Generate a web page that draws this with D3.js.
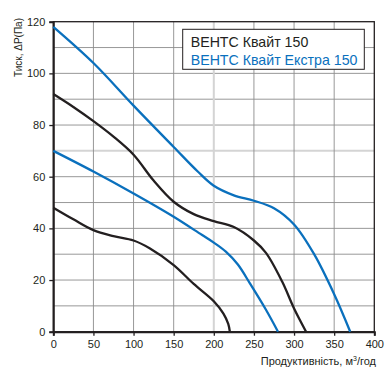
<!DOCTYPE html>
<html>
<head>
<meta charset="utf-8">
<script src="https://cdn.jsdelivr.net/npm/d3@7"></script>
<style>
  html, body { margin: 0; padding: 0; background: #fff; overflow: hidden; }
  svg { display: block; font-family: "Liberation Sans", Arial, sans-serif; }
</style>
</head>
<body>
<div id="chart"></div>
<script>
// Axis ticks
const xTicks = [0, 50, 100, 150, 200, 250, 300, 350, 400];
const yTicks = [0, 20, 40, 60, 80, 100, 120];
const yGrid  = [10, 20, 30, 40, 50, 60, 70, 80, 90, 100, 110];

// Legend entries
const seriesNames = ['ВЕНТС Квайт 150', 'ВЕНТС Квайт Екстра 150'];

// Curves: [flow m3/h, pressure Pa]
const kvaitMax = [[0, 92], [25, 87], [50, 81.5], [75, 75.5], [100, 68.5], [125, 58.5], [150, 50.3], [175, 45.5],
  [200, 42.8], [225, 40.5], [250, 35.3], [265, 30.5], [285, 19.5], [300, 9], [315, 0]];
const kvaitMin = [[0, 48], [25, 43.5], [50, 39.3], [75, 37], [100, 35.3], [120, 32.3], [150, 25.8],
  [175, 18.5], [200, 11.8], [212, 7], [218, 3], [220, 0]];
const extraMax = [[0, 118], [50, 104], [100, 87.5], [150, 71.5], [180, 62], [200, 56.5], [225, 52.8],
  [250, 50.7], [275, 47.8], [300, 41.5], [325, 30], [350, 14.5], [370, 0]];
const extraMin = [[0, 70], [50, 62], [100, 53.5], [150, 44.5], [185, 37.5], [200, 34.5], [215, 31],
  [230, 26], [245, 18.7], [265, 8.5], [280, 0]];

const curves = [
  { name: seriesNames[0], pts: kvaitMax },
  { name: seriesNames[0], pts: kvaitMin },
  { name: seriesNames[1], pts: extraMax },
  { name: seriesNames[1], pts: extraMin },
];

const colors = { [seriesNames[0]]: '#231f20', [seriesNames[1]]: '#0a70bd' };

const width = 391, height = 377;
const margin = { top: 21.7, right: 16.7, bottom: 45.3, left: 53.3 };
const innerWidth = width - margin.left - margin.right;
const innerHeight = height - margin.top - margin.bottom;

const svg = d3.select('#chart').append('svg')
  .attr('width', width).attr('height', height);

const g = svg.append('g').attr('transform', `translate(${margin.left},${margin.top})`);

const x = d3.scaleLinear().domain([0, 400]).range([0, innerWidth]);
const y = d3.scaleLinear().domain([0, 120]).range([innerHeight, 0]);

// grid (the 70 Pa and 200 m3/h lines are drawn lighter in the original)
g.append('g').selectAll('line').data(yGrid).join('line')
  .attr('x1', 0).attr('x2', innerWidth)
  .attr('y1', (d) => y(d)).attr('y2', (d) => y(d))
  .attr('stroke', (d) => d === 70 ? '#d4d4d4' : '#8c8c8c')
  .attr('stroke-width', (d) => d === 70 ? 2 : 0.9);
g.append('g').selectAll('line').data(xTicks.slice(1, -1)).join('line')
  .attr('y1', 0).attr('y2', innerHeight)
  .attr('x1', (d) => x(d)).attr('x2', (d) => x(d))
  .attr('stroke', (d) => d === 200 ? '#d4d4d4' : '#8c8c8c')
  .attr('stroke-width', (d) => d === 200 ? 2 : 0.9);

// frame
g.append('rect')
  .attr('width', innerWidth).attr('height', innerHeight)
  .attr('fill', 'none').attr('stroke', '#231f20').attr('stroke-width', 1.3);

// axes
const xAxis = g.append('g').attr('transform', `translate(0,${innerHeight})`)
  .call(d3.axisBottom(x).tickValues(xTicks).tickSize(4).tickPadding(5));
const yAxis = g.append('g')
  .call(d3.axisLeft(y).tickValues(yTicks).tickSize(4).tickPadding(4));
[xAxis, yAxis].forEach((a) => {
  a.select('.domain').attr('stroke', '#231f20').attr('stroke-width', 2);
  a.selectAll('.tick line').attr('stroke', '#231f20').attr('stroke-width', 1.3);
  a.selectAll('text').attr('font-size', 11).attr('fill', '#231f20')
    .attr('font-family', '"Liberation Sans", Arial, sans-serif');
});

// curves
const line = d3.line()
  .x((d) => x(d[0]))
  .y((d) => y(d[1]))
  .curve(d3.curveCatmullRom.alpha(0.5));

g.append('g').selectAll('path').data(curves).join('path')
  .attr('d', (d) => line(d.pts))
  .attr('fill', 'none')
  .attr('stroke', (d) => colors[d.name])
  .attr('stroke-width', 2.3)
  .attr('stroke-linejoin', 'round');

// legend
const lg = svg.append('g').attr('transform', 'translate(182.7,29.3)');
lg.append('rect')
  .attr('width', 181.6).attr('height', 40)
  .attr('fill', '#fff').attr('stroke', '#231f20').attr('stroke-width', 1);
lg.selectAll('text').data(seriesNames).join('text')
  .attr('x', 8).attr('y', (d, i) => 18 + i * 17.5)
  .attr('font-size', 14.2)
  .attr('fill', (d) => colors[d])
  .text((d) => d);

// axis titles
svg.append('text')
  .attr('transform', 'translate(22,18) rotate(-90)')
  .attr('text-anchor', 'end')
  .attr('font-size', 10).attr('fill', '#231f20')
  .text('Тиск, ΔP(Па)');

const xt = svg.append('text')
  .attr('x', 376).attr('y', 365)
  .attr('text-anchor', 'end')
  .attr('font-size', 11).attr('fill', '#231f20');
xt.append('tspan').text('Продуктивність, м');
xt.append('tspan').attr('font-size', 7).attr('dy', -4).text('3');
xt.append('tspan').attr('dy', 4).text('/год');
</script>
</body>
</html>
